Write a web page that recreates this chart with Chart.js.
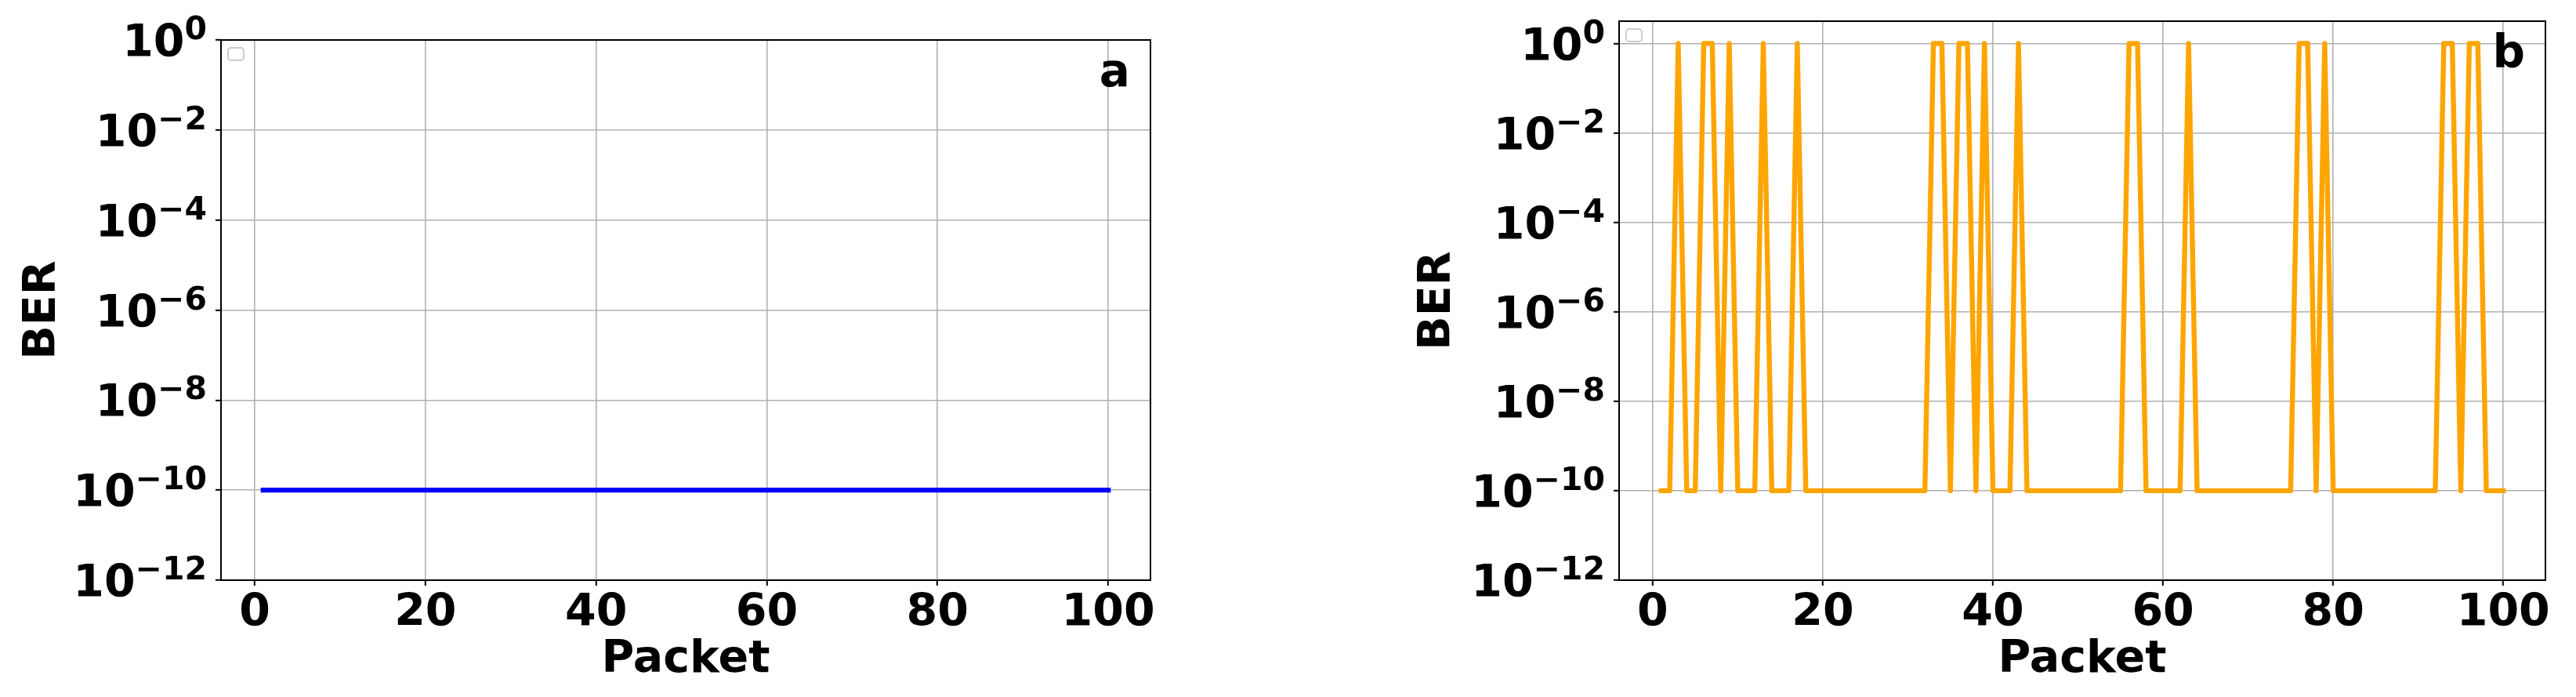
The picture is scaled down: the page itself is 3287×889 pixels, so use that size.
<!DOCTYPE html>
<html>
<head>
<meta charset="utf-8">
<script src="https://cdn.jsdelivr.net/npm/chart.js@4/dist/chart.umd.min.js"></script>
<style>
  html, body { margin: 0; padding: 0; background: #fff; }
  #wrap { position: relative; width: 3287px; height: 889px; }
  .panel { position: absolute; top: 0; height: 889px; }
</style>
</head>
<body>
<div id="wrap">
  <div class="panel" style="left:0;width:1700px"><canvas id="chartA" width="1700" height="889"></canvas></div>
  <div class="panel" style="left:1700px;width:1587px"><canvas id="chartB" width="1587" height="889"></canvas></div>
</div>
<script>
// packet index (x axis)
const packets = [
  1, 2, 3, 4, 5, 6, 7, 8, 9, 10,
  11, 12, 13, 14, 15, 16, 17, 18, 19, 20,
  21, 22, 23, 24, 25, 26, 27, 28, 29, 30,
  31, 32, 33, 34, 35, 36, 37, 38, 39, 40,
  41, 42, 43, 44, 45, 46, 47, 48, 49, 50,
  51, 52, 53, 54, 55, 56, 57, 58, 59, 60,
  61, 62, 63, 64, 65, 66, 67, 68, 69, 70,
  71, 72, 73, 74, 75, 76, 77, 78, 79, 80,
  81, 82, 83, 84, 85, 86, 87, 88, 89, 90,
  91, 92, 93, 94, 95, 96, 97, 98, 99, 100
];

// panel a : BER per packet
const berA = [
  1e-10, 1e-10, 1e-10, 1e-10, 1e-10, 1e-10, 1e-10, 1e-10, 1e-10, 1e-10,
  1e-10, 1e-10, 1e-10, 1e-10, 1e-10, 1e-10, 1e-10, 1e-10, 1e-10, 1e-10,
  1e-10, 1e-10, 1e-10, 1e-10, 1e-10, 1e-10, 1e-10, 1e-10, 1e-10, 1e-10,
  1e-10, 1e-10, 1e-10, 1e-10, 1e-10, 1e-10, 1e-10, 1e-10, 1e-10, 1e-10,
  1e-10, 1e-10, 1e-10, 1e-10, 1e-10, 1e-10, 1e-10, 1e-10, 1e-10, 1e-10,
  1e-10, 1e-10, 1e-10, 1e-10, 1e-10, 1e-10, 1e-10, 1e-10, 1e-10, 1e-10,
  1e-10, 1e-10, 1e-10, 1e-10, 1e-10, 1e-10, 1e-10, 1e-10, 1e-10, 1e-10,
  1e-10, 1e-10, 1e-10, 1e-10, 1e-10, 1e-10, 1e-10, 1e-10, 1e-10, 1e-10,
  1e-10, 1e-10, 1e-10, 1e-10, 1e-10, 1e-10, 1e-10, 1e-10, 1e-10, 1e-10,
  1e-10, 1e-10, 1e-10, 1e-10, 1e-10, 1e-10, 1e-10, 1e-10, 1e-10, 1e-10
];

// panel b : BER per packet
const berB = [
  1e-10, 1e-10, 1, 1e-10, 1e-10, 1, 1, 1e-10, 1, 1e-10,
  1e-10, 1e-10, 1, 1e-10, 1e-10, 1e-10, 1, 1e-10, 1e-10, 1e-10,
  1e-10, 1e-10, 1e-10, 1e-10, 1e-10, 1e-10, 1e-10, 1e-10, 1e-10, 1e-10,
  1e-10, 1e-10, 1, 1, 1e-10, 1, 1, 1e-10, 1, 1e-10,
  1e-10, 1e-10, 1, 1e-10, 1e-10, 1e-10, 1e-10, 1e-10, 1e-10, 1e-10,
  1e-10, 1e-10, 1e-10, 1e-10, 1e-10, 1, 1, 1e-10, 1e-10, 1e-10,
  1e-10, 1e-10, 1, 1e-10, 1e-10, 1e-10, 1e-10, 1e-10, 1e-10, 1e-10,
  1e-10, 1e-10, 1e-10, 1e-10, 1e-10, 1, 1, 1e-10, 1, 1e-10,
  1e-10, 1e-10, 1e-10, 1e-10, 1e-10, 1e-10, 1e-10, 1e-10, 1e-10, 1e-10,
  1e-10, 1e-10, 1, 1, 1e-10, 1, 1, 1e-10, 1e-10, 1e-10
];

const yTicks = [1e-12, 1e-10, 1e-8, 1e-6, 1e-4, 1e-2, 1];
const xTicks = [0, 20, 40, 60, 80, 100];
const panelLetters = ['a', 'b'];

const FAMILY = '"DejaVu Sans", sans-serif';
const FONT = { family: FAMILY, size: 57, weight: 'bold' };

// y tick labels drawn as 10 with a raised exponent, like mathtext
function drawLogLabels(chart) {
  const s = chart.scales.y;
  const ctx = chart.ctx;
  const xr = s.right - 18;
  ctx.save();
  ctx.fillStyle = '#000';
  ctx.textBaseline = 'alphabetic';
  ctx.textAlign = 'left';
  s.ticks.forEach(t => {
    const e = Math.round(Math.log10(t.value));
    const exp = String(e).replace('-', '\u2212');
    const y = s.getPixelForValue(t.value) + 21;
    ctx.font = 'bold 57px ' + FAMILY;
    const wb = ctx.measureText('10').width;
    ctx.font = 'bold 41px ' + FAMILY;
    const we = ctx.measureText(exp).width;
    const x0 = xr - wb - we;
    ctx.font = 'bold 57px ' + FAMILY;
    ctx.fillText('10', x0, y);
    ctx.font = 'bold 41px ' + FAMILY;
    ctx.fillText(exp, x0 + wb, y - 22);
  });
  ctx.restore();
}

// spines, empty legend frame, panel letter, y labels
const panelDecor = {
  id: 'panelDecor',
  afterDraw(chart, args, o) {
    const { ctx, chartArea: a } = chart;
    ctx.save();
    ctx.strokeStyle = '#cccccc';
    ctx.lineWidth = 2;
    ctx.beginPath();
    ctx.roundRect(a.left + 9, a.top + 10, 20, 16, 4);
    ctx.stroke();
    ctx.strokeStyle = '#000';
    ctx.lineWidth = 2;
    ctx.strokeRect(a.left, a.top, a.right - a.left, a.bottom - a.top);
    ctx.fillStyle = '#000';
    ctx.font = 'bold 58px ' + FAMILY;
    ctx.textAlign = 'right';
    ctx.textBaseline = 'alphabetic';
    ctx.fillText(o.letter, a.right - 26, a.top + 59);
    ctx.restore();
    drawLogLabels(chart);
  }
};

function makeChart(id, values, color, p) {
  const ctx = document.getElementById(id).getContext('2d');
  return new Chart(ctx, {
    type: 'line',
    data: {
      datasets: [{
        data: packets.map((x, i) => ({ x: x, y: values[i] })),
        borderColor: color,
        borderWidth: 6.4,
        pointRadius: 0,
        tension: 0,
        fill: false,
        borderCapStyle: 'square',
        borderJoinStyle: 'round'
      }]
    },
    options: {
      responsive: false,
      animation: false,
      devicePixelRatio: 1,
      layout: { padding: { top: p.padTop, right: p.padRight, bottom: 0, left: 0 } },
      plugins: {
        legend: { display: false },
        tooltip: { enabled: false },
        panelDecor: { letter: p.letter }
      },
      scales: {
        x: {
          type: 'linear',
          min: -3.95,
          max: 104.95,
          afterBuildTicks: s => { s.ticks = xTicks.map(v => ({ value: v })); },
          afterFit: s => { s.height = 149; s.paddingLeft = 0; s.paddingRight = 0; },
          grid: { color: '#b0b0b0', lineWidth: 1.6, tickLength: 7, tickColor: '#000', tickWidth: 2 },
          border: { display: false },
          ticks: { font: FONT, color: '#000', padding: 2, autoSkip: false, maxRotation: 0 },
          title: { display: true, text: 'Packet', font: FONT, color: '#000', padding: { top: 0, bottom: 13 } }
        },
        y: {
          type: 'logarithmic',
          min: 1e-12,
          max: p.yMax,
          afterBuildTicks: s => { s.ticks = yTicks.map(v => ({ value: v })); },
          afterFit: s => { s.width = p.yWidth; s.paddingTop = 0; s.paddingBottom = 0; },
          grid: { color: '#b0b0b0', lineWidth: 1.6, tickLength: 7, tickColor: '#000', tickWidth: 2 },
          border: { display: false },
          ticks: { display: false },
          title: { display: true, text: 'BER', font: FONT, color: '#000', padding: { top: p.titlePad, bottom: 0 } }
        }
      }
    },
    plugins: [panelDecor]
  });
}

makeChart('chartA', berA, '#0000ff', { letter: panelLetters[0], yMax: 1, yWidth: 282, padTop: 51, padRight: 232, titlePad: 21 });
makeChart('chartB', berB, '#ffa500', { letter: panelLetters[1], yMax: Math.pow(10, 0.5), yWidth: 366, padTop: 27, padRight: 39, titlePad: 101 });
</script>
</body>
</html>
